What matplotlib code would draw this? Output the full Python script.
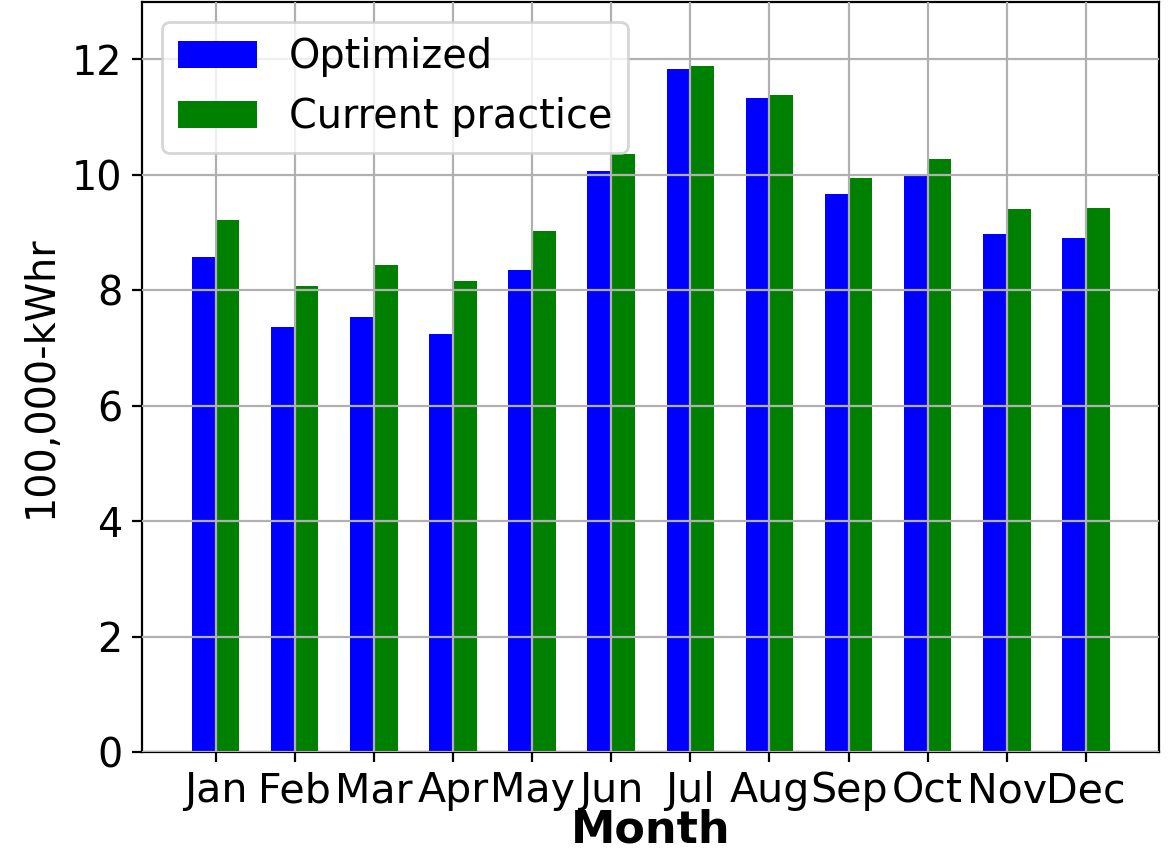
import numpy as np
import matplotlib
matplotlib.use('Agg')
from matplotlib import pyplot as plt

# Monthly energy use (100,000-kWhr)
months = ['Jan', 'Feb', 'Mar', 'Apr', 'May', 'Jun',
          'Jul', 'Aug', 'Sep', 'Oct', 'Nov', 'Dec']
optimized = [8.58, 7.37, 7.54, 7.24, 8.35, 10.07,
             11.83, 11.33, 9.67, 9.99, 8.97, 8.91]
current = [9.21, 8.08, 8.43, 8.16, 9.03, 10.36,
           11.88, 11.39, 9.95, 10.28, 9.41, 9.43]

plt.rcParams['font.size'] = 14.3

fig = plt.figure(figsize=(5.87, 4.285), dpi=200)
ax = fig.add_axes([0.121, 0.1225, 0.866, 0.8755])

x = np.arange(len(months))
w = 0.3
ax.bar(x - w / 2, optimized, w, color='blue', label='Optimized')
ax.bar(x + w / 2, current, w, color='green', label='Current practice')

ax.set_xticks(x)
ax.set_xticklabels(months, fontsize=14.8)
ax.set_xlim(-0.93, 11.92)
ax.set_ylim(0, 13)
ax.set_yticks(range(0, 13, 2))
ax.grid(True)
ax.set_axisbelow(False)

ax.set_xlabel('Month', fontweight='bold', fontsize=16, labelpad=-1)
ax.set_ylabel('100,000-kWhr')
ax.legend(loc='upper left')

fig.savefig('out.png', dpi=200)
